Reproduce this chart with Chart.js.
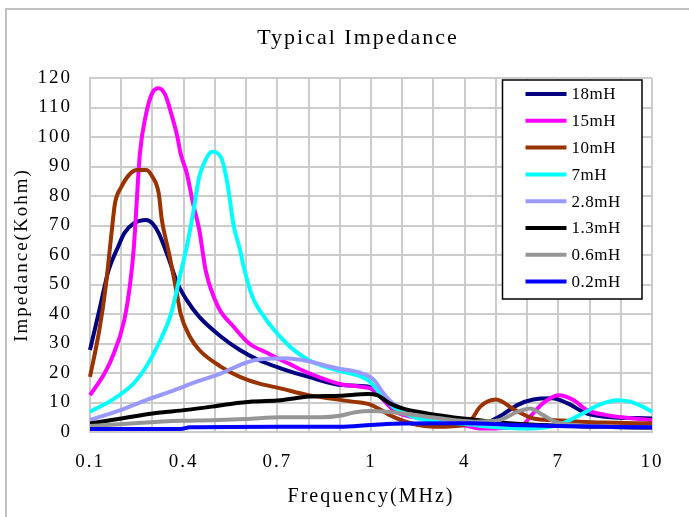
<!DOCTYPE html>
<html>
<head>
<meta charset="utf-8">
<script src="https://cdn.jsdelivr.net/npm/chart.js@4.4.1/dist/chart.umd.min.js"></script>
<style>
  html, body { margin: 0; padding: 0; background: #fff; }
  canvas { display: block; }
</style>
</head>
<body>
<canvas id="chart" width="689" height="517"></canvas>
<script>
// Frequency categories: 0.10..1.00 step 0.01, then 1.1..10.0 step 0.1
const lowFreqs = [];
for (let i = 0; i <= 90; i++) lowFreqs.push(((10 + i) / 100).toFixed(2));
const highFreqs = [];
for (let i = 1; i <= 90; i++) highFreqs.push(((10 + i) / 10).toFixed(1));
const freqLabels = lowFreqs.concat(highFreqs);

const chartTitle = 'Typical Impedance';
const seriesNames = ['18mH', '15mH', '10mH', '7mH', '2.8mH', '1.3mH', '0.6mH', '0.2mH'];
const seriesColors = ['#000080', '#ff00ff', '#993300', '#00ffff', '#9999ff', '#000000', '#969696', '#0000ff'];

// [frequency MHz, impedance Kohm]
const s18mH = [[0.10,27.8],[0.13,41.4],[0.16,55],[0.19,62.8],[0.21,67.4],[0.24,70.7],[0.28,71.9],[0.30,70.7],[0.32,67.4],[0.35,59.4],[0.38,50.4],[0.41,44.7],[0.45,39],[0.52,32.3],[0.58,27.8],[0.64,24.4],[0.71,21.6],[0.80,18.7],[0.91,15.9],[0.99,15.4],[1.3,12],[1.8,6.9],[2.6,5],[3.5,3.5],[4.5,2.5],[5.1,5.2],[5.7,9.2],[6.2,11],[6.8,11.4],[7.3,9.7],[7.9,6.3],[8.5,5.2],[10,4.6]];
const s15mH = [[0.10,12.5],[0.14,18.7],[0.17,25],[0.21,38],[0.23,51.5],[0.24,62],[0.26,94.5],[0.28,108],[0.30,115],[0.32,116.5],[0.34,114.5],[0.36,108],[0.38,100],[0.39,94.5],[0.41,87.7],[0.43,77.5],[0.45,68.5],[0.46,61.7],[0.47,55],[0.51,42.5],[0.56,35.7],[0.61,30],[0.67,26.7],[0.71,24.5],[0.74,23],[0.80,20],[0.91,16],[0.96,15.4],[1.1,14.2],[1.5,9.7],[1.8,6.9],[2.6,4.6],[4.2,1.8],[4.5,1.2],[5.8,1.8],[6.1,5.2],[6.5,9.7],[7.0,12.5],[7.5,10.8],[7.9,7.5],[8.5,5.8],[10,4]];
const s10mH = [[0.10,18.7],[0.13,34.6],[0.15,49],[0.17,68.5],[0.18,77.5],[0.20,83],[0.23,87.7],[0.25,88.8],[0.28,88.8],[0.30,86.5],[0.32,81],[0.33,72],[0.35,62],[0.36,57],[0.38,45.9],[0.39,40.2],[0.42,32.3],[0.45,27.8],[0.52,22.1],[0.58,18.7],[0.64,16.5],[0.71,14.8],[0.80,12.5],[0.94,10.3],[1.00,9.2],[1.7,5.2],[2.3,2.9],[3.1,1.8],[4.0,2.4],[4.2,4],[4.5,8.6],[5.0,11],[5.6,7.5],[6.2,4.6],[6.9,4],[7.7,3.5],[8.5,3.2],[10,2.9]];
const s7mH = [[0.10,6.9],[0.17,10.8],[0.24,16.5],[0.28,22.1],[0.32,30],[0.36,40.2],[0.39,53.8],[0.41,62.8],[0.43,74],[0.45,86.5],[0.47,92.2],[0.49,95],[0.52,93],[0.54,84.3],[0.56,70],[0.58,62],[0.59,57],[0.62,45.9],[0.65,40.2],[0.73,30],[0.80,24.4],[0.89,21],[0.99,17.6],[1.3,13.1],[1.7,8.6],[2.5,4.6],[3.3,3.5],[4.2,2.5],[4.8,1.8],[6.0,1.2],[7.0,2.4],[7.7,5.8],[8.3,9.2],[8.9,10.8],[9.3,10.3],[9.7,8.6],[10,6.9]];
const s2_8mH = [[0.10,4.1],[0.20,7.5],[0.28,10.8],[0.37,14.2],[0.44,17],[0.52,19.9],[0.58,22.7],[0.63,24.4],[0.72,25],[0.78,24.4],[0.89,21.6],[0.97,19.9],[1.1,17.6],[1.4,13.1],[1.7,9.7],[2.3,6.9],[2.9,5.2],[4.2,3],[5.8,2.5],[7.0,2],[10,1.5]];
const s1_3mH = [[0.10,2.9],[0.20,4.6],[0.30,6.3],[0.41,7.5],[0.49,8.6],[0.55,9.5],[0.62,10.3],[0.71,10.8],[0.80,12],[0.90,12.3],[0.99,12.9],[1.2,12.5],[1.6,9.7],[2.0,8],[2.8,6.3],[3.5,5.2],[4.2,4.3],[5.1,3.2],[6.4,2.4],[8.3,1.8],[10,1.4]];
const s0_6mH = [[0.10,2],[0.23,2.9],[0.39,3.8],[0.49,4],[0.60,4.4],[0.71,5],[0.84,5],[0.90,5.5],[0.95,6.7],[1.00,7.1],[1.5,6.9],[2.0,6.3],[2.8,5.2],[3.7,4],[4.3,3.5],[5.1,4],[5.7,6.9],[6.1,8],[6.5,5.8],[6.9,3.5],[7.5,2.4],[10,1.5]];
const s0_2mH = [[0.10,1],[0.39,1],[0.42,1.6],[0.71,1.8],[0.90,1.8],[1.00,2.4],[2.0,2.9],[4.2,3],[5.5,2.4],[7.0,2],[10,1.6]];
const seriesData = [s18mH, s15mH, s10mH, s7mH, s2_8mH, s1_3mH, s0_6mH, s0_2mH];

const xTickEvery = 30;   // 0.1, 0.4, 0.7, 1, 4, 7, 10
const xGridEvery = 10;

function freqKey(f) {
  return f <= 1 ? f.toFixed(2) : f.toFixed(1);
}

const serif = '"Liberation Serif", "DejaVu Serif", serif';

// text spacing to mimic the wide CJK-style font of the original
const spacing = {
  id: 'spacing',
  beforeUpdate(chart) { chart.ctx.letterSpacing = '2px'; },
  beforeDraw(chart) { chart.ctx.letterSpacing = '2px'; }
};

const frame = {
  id: 'frame',
  beforeDraw(chart) {
    const ctx = chart.ctx;
    ctx.save();
    ctx.fillStyle = '#fff';
    ctx.fillRect(0, 0, chart.width, chart.height);
    ctx.strokeStyle = '#c0c0c0';
    ctx.lineWidth = 2;
    ctx.beginPath();
    ctx.moveTo(6, chart.height);
    ctx.lineTo(6, 9);
    ctx.lineTo(chart.width, 9);
    ctx.stroke();
    ctx.restore();
  },
  afterDraw(chart) {
    // title sits a bit right of the canvas centre in the original
    const ctx = chart.ctx;
    ctx.save();
    ctx.letterSpacing = '2px';
    ctx.font = '22px ' + serif;
    ctx.fillStyle = '#000';
    ctx.textAlign = 'center';
    ctx.textBaseline = 'middle';
    ctx.fillText(chartTitle, 358, 38);
    ctx.restore();
  }
};

const boxLegend = {
  id: 'boxLegend',
  afterDraw(chart) {
    const { ctx, chartArea } = chart;
    const x = chartArea.right - 149.5, y = chartArea.top + 2, w = 139.5, h = 219;
    ctx.save();
    ctx.letterSpacing = '0.5px';
    ctx.fillStyle = '#fff';
    ctx.fillRect(x, y, w, h);
    ctx.strokeStyle = '#000';
    ctx.lineWidth = 1.5;
    ctx.strokeRect(x, y, w, h);
    ctx.font = '17px ' + serif;
    ctx.textBaseline = 'middle';
    chart.data.datasets.forEach((ds, i) => {
      const ly = y + 14 + i * 26.8;
      ctx.strokeStyle = ds.borderColor;
      ctx.lineWidth = 4;
      ctx.beginPath();
      ctx.moveTo(x + 23, ly);
      ctx.lineTo(x + 64, ly);
      ctx.stroke();
      ctx.fillStyle = '#000';
      ctx.fillText(ds.label, x + 69, ly + 1);
    });
    ctx.restore();
  }
};

const datasets = seriesNames.map((name, i) => ({
  label: name,
  data: seriesData[i].map(p => ({ x: freqKey(p[0]), y: p[1] })),
  borderColor: seriesColors[i],
  backgroundColor: seriesColors[i],
  borderWidth: 4,
  pointRadius: 0,
  fill: false,
  cubicInterpolationMode: 'monotone',
  order: seriesNames.length - 1 - i
}));

new Chart(document.getElementById('chart'), {
  type: 'line',
  data: { labels: freqLabels, datasets: datasets },
  options: {
    responsive: false,
    animation: false,
    devicePixelRatio: 1,
    layout: { padding: { left: 0, right: 37, top: 78, bottom: 0 } },
    plugins: {
      legend: { display: false },
      tooltip: { enabled: false },
      title: { display: false }
    },
    scales: {
      x: {
        type: 'category',
        offset: false,
        afterFit: s => { s.height = 85; },
        grid: {
          color: c => (c.index % xGridEvery === 0 ? '#cccccc' : 'rgba(0,0,0,0)'),
          lineWidth: 2,
          drawTicks: false
        },
        border: { color: '#cccccc', width: 2 },
        ticks: {
          autoSkip: false,
          maxRotation: 0,
          padding: 19,
          color: '#000',
          font: { family: serif, size: 19 },
          callback: (v, i) => (i % xTickEvery === 0 ? String(Number(freqLabels[i])) : '')
        },
        title: {
          display: true,
          text: 'Frequency(MHz)',
          color: '#000',
          font: { family: serif, size: 20 },
          padding: { top: 0, bottom: 8 }
        }
      },
      y: {
        min: 0,
        max: 120,
        afterFit: s => { s.width = 90; },
        grid: { color: '#cccccc', lineWidth: 2, drawTicks: false },
        border: { color: '#cccccc', width: 2 },
        ticks: {
          stepSize: 10,
          padding: 18,
          color: '#000',
          font: { family: serif, size: 19 }
        },
        title: {
          display: true,
          text: 'Impedance(Kohm)',
          color: '#000',
          font: { family: serif, size: 19 },
          padding: { top: 11, bottom: 0 }
        }
      }
    }
  },
  plugins: [spacing, frame, boxLegend]
});
</script>
</body>
</html>
